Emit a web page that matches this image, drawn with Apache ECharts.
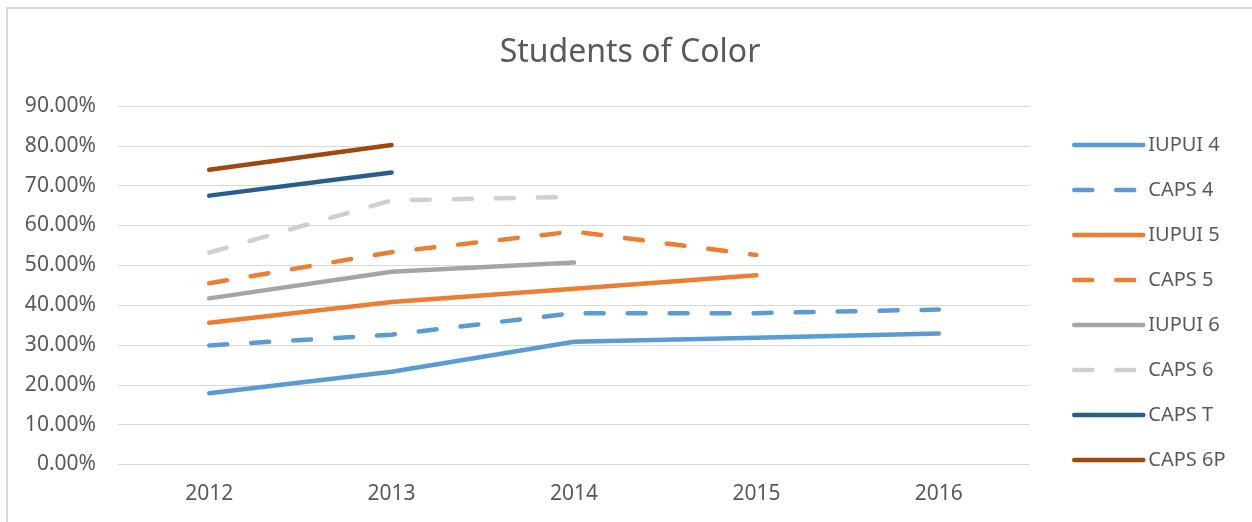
<!DOCTYPE html>
<html>
<head>
<meta charset="utf-8">
<title>Students of Color</title>
<script src="https://cdn.jsdelivr.net/npm/echarts@6/dist/echarts.min.js"></script>
<style>
  html, body { margin: 0; padding: 0; background: #fff; }
  #chart { width: 1252px; height: 522px; }
</style>
</head>
<body>
<div id="chart"></div>
<script>
// 数据
var years = ['2012', '2013', '2014', '2015', '2016'];
var iupui4 = [0.179, 0.233, 0.308, 0.318, 0.329];
var caps4 = [0.299, 0.326, 0.380, 0.380, 0.389];
var iupui5 = [0.356, 0.408, 0.441, 0.475, null];
var caps5 = [0.455, 0.533, 0.585, 0.526, null];
var iupui6 = [0.417, 0.484, 0.507, null, null];
var caps6 = [0.532, 0.663, 0.672, null, null];
var capsT = [0.675, 0.733, null, null, null];
var caps6P = [0.740, 0.802, null, null, null];

var textColor = '#595959';
var font = '"Noto Sans", sans-serif';

function makeLine(name, data, color, dashed) {
	return {
		name: name,
		type: 'line',
		data: data,
		symbol: 'none',
		connectNulls: false,
		lineStyle: {
			color: color,
			width: 4.5,
			type: dashed ? [18, 24] : 'solid',
			cap: 'round',
			join: 'round'
		},
		itemStyle: { color: color }
	};
}

var myChart = echarts.init(document.getElementById('chart'));
myChart.setOption({
	animation: false,
	title: {
		text: 'Students of Color',
		left: 625,
		textAlign: 'center',
		top: 32,
		textStyle: { fontFamily: font, fontSize: 32, fontWeight: 'normal', color: textColor }
	},
	graphic: [{
		type: 'rect',
		shape: { x: 7, y: 8, width: 1400, height: 700 },
		style: { fill: 'none', stroke: '#d9d9d9', lineWidth: 2 },
		silent: true
	}],
	legend: {
		orient: 'vertical',
		left: 1067,
		top: 130,
		itemWidth: 69,
		itemHeight: 14,
		itemGap: 25,
		itemStyle: { opacity: 0 },
		lineStyle: { width: 4.5, cap: 'round' },
		textStyle: { fontFamily: font, fontSize: 20, lineHeight: 20, color: textColor },
		data: ['IUPUI 4', 'CAPS 4', 'IUPUI 5', 'CAPS 5', 'IUPUI 6', 'CAPS 6', 'CAPS T', 'CAPS 6P']
	},
	grid: { left: 118, right: 222, top: 106, bottom: 57.5 },
	xAxis: {
		type: 'category',
		data: years,
		boundaryGap: true,
		axisLine: { show: false },
		axisTick: { show: false },
		axisLabel: { margin: 19, fontFamily: font, fontSize: 21, color: textColor }
	},
	yAxis: {
		type: 'value',
		min: 0,
		max: 0.9,
		interval: 0.1,
		axisLine: { show: false },
		axisTick: { show: false },
		splitLine: { lineStyle: { color: '#d9d9d9', width: 1 } },
		axisLabel: {
			margin: 22,
			fontFamily: font,
			fontSize: 21,
			color: textColor,
			formatter: function (v) { return (v * 100).toFixed(2) + '%'; }
		}
	},
	series: [
		makeLine('IUPUI 4', iupui4, '#5B9BD5', false),
		makeLine('CAPS 4', caps4, '#5B9BD5', true),
		makeLine('IUPUI 5', iupui5, '#ED7D31', false),
		makeLine('CAPS 5', caps5, '#ED7D31', true),
		makeLine('IUPUI 6', iupui6, '#A5A5A5', false),
		makeLine('CAPS 6', caps6, '#D0CECE', true),
		makeLine('CAPS T', capsT, '#255E91', false),
		makeLine('CAPS 6P', caps6P, '#9E480E', false)
	]
});
</script>
</body>
</html>
